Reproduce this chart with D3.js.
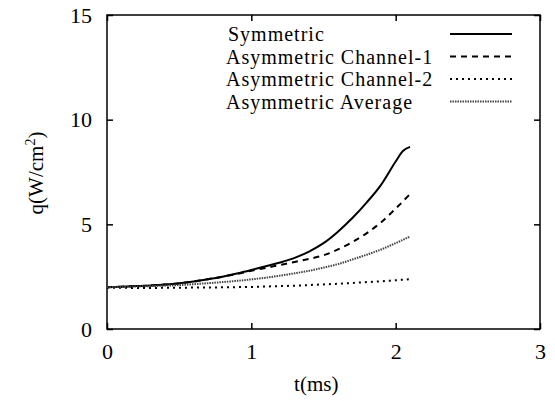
<!DOCTYPE html>
<html>
<head>
<meta charset="utf-8">
<script src="https://cdn.jsdelivr.net/npm/d3@7"></script>
<style>
body { margin: 0; background: #fff; }
text { font-family: "Liberation Serif", "DejaVu Serif", serif; fill: #000; }
</style>
</head>
<body>
<script>
// data
var tSym = [0, 0.1, 0.2, 0.3, 0.4, 0.5, 0.6, 0.7, 0.8, 0.9, 1.0, 1.1, 1.2, 1.3, 1.4, 1.5, 1.6, 1.7, 1.8, 1.9, 2.0, 2.05, 2.1];
var qSym = [2.0, 2.02, 2.05, 2.08, 2.12, 2.18, 2.27, 2.38, 2.5, 2.65, 2.82, 3.0, 3.18, 3.4, 3.7, 4.1, 4.65, 5.3, 6.05, 6.9, 8.0, 8.5, 8.7];
var tCh = [0, 0.1, 0.2, 0.3, 0.4, 0.5, 0.6, 0.7, 0.8, 0.9, 1.0, 1.1, 1.2, 1.3, 1.4, 1.5, 1.6, 1.7, 1.8, 1.9, 2.0, 2.1];
var qCh1 = [2.0, 2.02, 2.05, 2.08, 2.12, 2.18, 2.27, 2.38, 2.5, 2.63, 2.78, 2.92, 3.06, 3.2, 3.35, 3.52, 3.8, 4.15, 4.58, 5.1, 5.75, 6.45];
var qCh2 = [1.98, 1.97, 1.96, 1.96, 1.97, 1.97, 1.98, 1.98, 1.99, 2.0, 2.01, 2.03, 2.05, 2.07, 2.1, 2.13, 2.16, 2.2, 2.24, 2.28, 2.33, 2.38];
var qAvg = [2.0, 2.01, 2.03, 2.05, 2.07, 2.1, 2.14, 2.19, 2.24, 2.3, 2.37, 2.45, 2.55, 2.66, 2.78, 2.93, 3.1, 3.32, 3.55, 3.8, 4.1, 4.42];

var xTicks = [0, 1, 2, 3];
var yTicks = [0, 5, 10, 15];
var names = ["Symmetric", "Asymmetric Channel-1", "Asymmetric Channel-2", "Asymmetric Average"];

var margin = {top: 15, right: 15, bottom: 72, left: 107};
var width = 555 - margin.left - margin.right, height = 401 - margin.top - margin.bottom;

var svg = d3.select("body").append("svg")
    .attr("width", width + margin.left + margin.right)
    .attr("height", height + margin.top + margin.bottom)
    .append("g")
    .attr("transform", "translate(" + margin.left + "," + margin.top + ")");

var x = d3.scaleLinear().domain([0, 3]).range([0, width]);
var y = d3.scaleLinear().domain([0, 15]).range([height, 0]);

// inward ticks on all four sides
function styleAxis(g) {
    g.select(".domain").remove();
    g.selectAll("line").attr("stroke", "#000").attr("stroke-width", 1.5);
}
svg.append("g").attr("transform", "translate(0," + height + ")")
    .call(d3.axisBottom(x).tickValues(xTicks).tickSize(-6).tickPadding(14).tickFormat(d3.format("d")))
    .call(styleAxis)
    .selectAll("text").style("font-size", "22px");
svg.append("g")
    .call(d3.axisTop(x).tickValues(xTicks).tickSize(-6).tickFormat(""))
    .call(styleAxis);
svg.append("g")
    .call(d3.axisLeft(y).tickValues(yTicks).tickSize(-6).tickPadding(15).tickFormat(d3.format("d")))
    .call(styleAxis)
    .selectAll("text").style("font-size", "22px");
svg.append("g").attr("transform", "translate(" + width + ",0)")
    .call(d3.axisRight(y).tickValues(yTicks).tickSize(-6).tickFormat(""))
    .call(styleAxis);

svg.append("rect")
    .attr("width", width).attr("height", height)
    .attr("fill", "none").attr("stroke", "#000").attr("stroke-width", 1.5);

// axis titles
svg.append("text")
    .attr("x", x(1.45)).attr("y", height + 62)
    .attr("text-anchor", "middle").style("font-size", "21px")
    .text("t(ms)");
var yl = svg.append("text")
    .attr("transform", "translate(-64," + (height / 2 + 1) + ") rotate(-90)")
    .attr("text-anchor", "middle").style("font-size", "21px");
yl.append("tspan").text("q(W/cm");
yl.append("tspan").attr("dy", -8).style("font-size", "14px").text("2");
yl.append("tspan").attr("dy", 8).text(")");

var styles = [
    {dash: null, w: 2, c: "#000"},
    {dash: "6,5", w: 2, c: "#000"},
    {dash: "2,4", w: 2, c: "#000"},
    {dash: "1.5,1", w: 2, c: "#444"}
];

var series = [
    tSym.map((t, i) => [t, qSym[i]]),
    tCh.map((t, i) => [t, qCh1[i]]),
    tCh.map((t, i) => [t, qCh2[i]]),
    tCh.map((t, i) => [t, qAvg[i]])
];

var line = d3.line().x(d => x(d[0])).y(d => y(d[1])).curve(d3.curveMonotoneX);

svg.selectAll("path.curve")
    .data(series)
    .enter().append("path")
    .attr("class", "curve")
    .attr("d", line)
    .attr("fill", "none")
    .attr("stroke", (d, i) => styles[i].c)
    .attr("stroke-width", (d, i) => styles[i].w)
    .attr("stroke-dasharray", (d, i) => styles[i].dash);

// legend
var legend = svg.append("g");
var rows = legend.selectAll("g")
    .data(names)
    .enter().append("g")
    .attr("transform", (d, i) => "translate(0," + (19 + i * 22.5) + ")");
rows.append("text")
    .attr("x", (d, i) => i == 0 ? 121 : 119)
    .attr("dy", "0.35em")
    .style("font-size", "20px")
    .style("letter-spacing", "1px")
    .text(d => d);
rows.append("line")
    .attr("x1", 343).attr("x2", 405)
    .attr("stroke", (d, i) => styles[i].c)
    .attr("stroke-width", (d, i) => styles[i].w)
    .attr("stroke-dasharray", (d, i) => styles[i].dash);
</script>
</body>
</html>
